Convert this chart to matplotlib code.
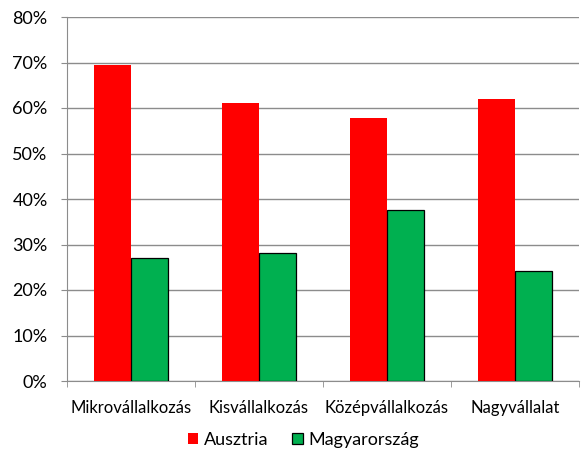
import matplotlib
matplotlib.use("Agg")
import matplotlib.pyplot as plt
import numpy as np
from matplotlib.ticker import FuncFormatter, MultipleLocator

categories = ["Mikrovállalkozás", "Kisvállalkozás", "Középvállalkozás", "Nagyvállalat"]
ausztria = [69.5, 61.0, 57.7, 62.0]
magyarorszag = [27.0, 28.2, 37.6, 24.1]
series_names = ["Ausztria", "Magyarország"]

plt.rcParams['font.family'] = ['Lato', 'DejaVu Sans']

fig = plt.figure(figsize=(5.83, 4.54), dpi=100)
ax = fig.add_axes([67/583, 1-381/454, (579-67)/583, (381-17)/454])

x = np.arange(len(categories))
w = 0.29
ax.bar(x - w/2, ausztria, w, color="#FF0000", edgecolor="none", label=series_names[0], zorder=3)
ax.bar(x + w/2, magyarorszag, w, color="#00B050", edgecolor="black", linewidth=0.9, label=series_names[1], zorder=3)

ax.set_xlim(-0.5, len(categories) - 0.5)
ax.set_ylim(0, 80)
ax.yaxis.set_major_locator(MultipleLocator(10))
ax.yaxis.set_major_formatter(FuncFormatter(lambda v, p: f"{int(v)}%"))
ax.grid(axis="y", color="#8c8c8c", linewidth=1.0, zorder=0)

ax.set_xticks(x)
ax.set_xticklabels(categories)
ax.set_xticks(np.arange(len(categories) + 1) - 0.5, minor=True)
ax.tick_params(axis="x", which="major", length=0, pad=14, labelsize=12)
ax.tick_params(axis="x", which="minor", length=4, color="#8c8c8c", direction="out")
ax.tick_params(axis="y", length=4, color="#8c8c8c", labelsize=13, pad=10)

for s in ["top", "right"]:
    ax.spines[s].set_visible(False)
ax.spines["left"].set_color("#8c8c8c")
ax.spines["bottom"].set_color("#8c8c8c")

fig.legend(loc="center", bbox_to_anchor=(0.52, 1-440/454), ncol=2, frameon=False,
           fontsize=13, handlelength=0.6, handleheight=0.6, handletextpad=0.3, columnspacing=1.3)

fig.savefig("out.png", dpi=100)
